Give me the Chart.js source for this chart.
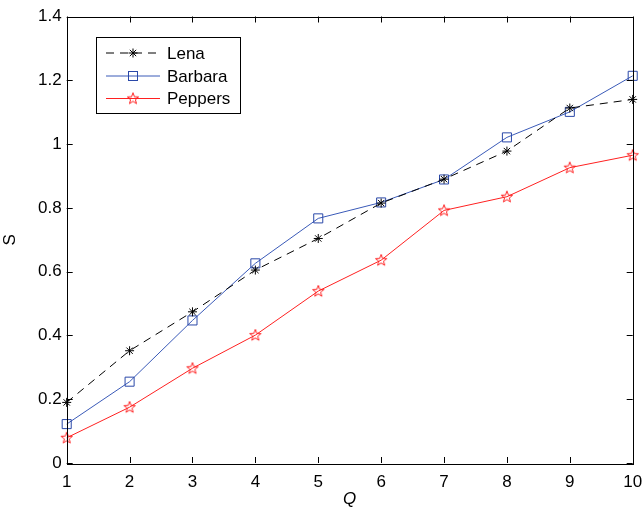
<!DOCTYPE html>
<html>
<head>
<meta charset="utf-8">
<script src="https://cdn.jsdelivr.net/npm/chart.js@4.4.1/dist/chart.umd.min.js"></script>
<style>
  html, body { margin: 0; padding: 0; background: #fff; }
  #wrap { width: 644px; height: 509px; }
</style>
</head>
<body>
<div id="wrap"><canvas id="chart" width="644" height="509"></canvas></div>
<script>
const qValues = [1, 2, 3, 4, 5, 6, 7, 8, 9, 10];
const lenaS = [0.19, 0.352, 0.474, 0.605, 0.704, 0.815, 0.89, 0.978, 1.113, 1.14];
const barbaraS = [0.122, 0.255, 0.447, 0.626, 0.767, 0.817, 0.889, 1.021, 1.101, 1.214];
const peppersS = [0.079, 0.175, 0.297, 0.401, 0.539, 0.636, 0.792, 0.835, 0.926, 0.965];
const seriesNames = ['Lena', 'Barbara', 'Peppers'];

const FONT = 'Liberation Sans, Arial, Helvetica, sans-serif';
const RED = '#ff2020';
const BLUE = '#3a5ab8';

// five-pointed star marker (MATLAB pentagram)
function makePentagram(color) {
    const c = document.createElement('canvas');
    c.width = 14; c.height = 14;
    const g = c.getContext('2d');
    g.strokeStyle = color;
    g.lineWidth = 1;
    g.beginPath();
    for (let i = 0; i < 10; i++) {
        const r = i % 2 === 0 ? 6 : 2.5;
        const a = -Math.PI / 2 + i * Math.PI / 5;
        const px = 7 + r * Math.cos(a), py = 7.3 + r * Math.sin(a);
        if (i === 0) g.moveTo(px, py); else g.lineTo(px, py);
    }
    g.closePath();
    g.stroke();
    return c;
}
const pentagram = makePentagram(RED);

function toPoints(ys) {
    return qValues.map((q, i) => ({ x: q, y: ys[i] }));
}

// box around plot area with inward ticks on all four sides
const boxPlugin = {
    id: 'box',
    afterDatasetsDraw(chart) {
        const ctx = chart.ctx;
        const a = chart.chartArea;
        const xs = chart.scales.x, ys = chart.scales.y;
        const len = 6;
        ctx.save();
        ctx.strokeStyle = '#000';
        ctx.lineWidth = 1;
        ctx.beginPath();
        xs.ticks.forEach(t => {
            const px = Math.round(xs.getPixelForValue(t.value)) + 0.5;
            ctx.moveTo(px, a.bottom); ctx.lineTo(px, a.bottom - len);
            ctx.moveTo(px, a.top); ctx.lineTo(px, a.top + len);
        });
        ys.ticks.forEach(t => {
            const py = Math.round(ys.getPixelForValue(t.value)) + 0.5;
            ctx.moveTo(a.left, py); ctx.lineTo(a.left + len, py);
            ctx.moveTo(a.right, py); ctx.lineTo(a.right - len, py);
        });
        ctx.stroke();
        ctx.strokeRect(Math.round(a.left) + 0.5, Math.round(a.top) + 0.5,
            Math.round(a.right - a.left), Math.round(a.bottom - a.top));
        ctx.restore();
    }
};

// legend box in the upper left corner, MATLAB style
const legendPlugin = {
    id: 'matlabLegend',
    afterDraw(chart) {
        const ctx = chart.ctx;
        const bx = 96.5, by = 37.5, bw = 144, bh = 76;
        ctx.save();
        ctx.fillStyle = '#fff';
        ctx.fillRect(bx, by, bw, bh);
        ctx.strokeStyle = '#000';
        ctx.lineWidth = 1;
        ctx.strokeRect(bx, by, bw, bh);
        const rows = [53, 76, 98.5];
        chart.data.datasets.forEach((ds, i) => {
            const y = rows[i];
            ctx.strokeStyle = ds.borderColor;
            ctx.lineWidth = ds.borderWidth;
            ctx.setLineDash(ds.borderDash || []);
            ctx.beginPath();
            ctx.moveTo(106, y); ctx.lineTo(160, y);
            ctx.stroke();
            ctx.setLineDash([]);
            const mx = 133;
            ctx.strokeStyle = ds.pointBorderColor;
            ctx.lineWidth = 1;
            if (ds.pointStyle === 'rect') {
                ctx.strokeRect(mx - 4.5, y - 4.5, 9, 9);
            } else if (ds.pointStyle === 'star') {
                ctx.beginPath();
                for (let k = 0; k < 4; k++) {
                    const ang = k * Math.PI / 4;
                    ctx.moveTo(mx - 4.5 * Math.cos(ang), y - 4.5 * Math.sin(ang));
                    ctx.lineTo(mx + 4.5 * Math.cos(ang), y + 4.5 * Math.sin(ang));
                }
                ctx.stroke();
            } else {
                ctx.drawImage(ds.pointStyle, mx - 7, y - 7);
            }
            ctx.fillStyle = '#000';
            ctx.font = '17px ' + FONT;
            ctx.textBaseline = 'middle';
            ctx.textAlign = 'left';
            ctx.fillText(ds.label, 167, y + 1);
        });
        ctx.restore();
    }
};

new Chart(document.getElementById('chart'), {
    type: 'line',
    data: {
        datasets: [
            {
                label: seriesNames[0],
                data: toPoints(lenaS),
                borderColor: '#000',
                borderWidth: 1,
                borderDash: [8, 6],
                pointStyle: 'star',
                pointRadius: 4.5,
                pointBorderColor: '#000',
                pointBorderWidth: 1,
                pointBackgroundColor: 'transparent'
            },
            {
                label: seriesNames[1],
                data: toPoints(barbaraS),
                borderColor: BLUE,
                borderWidth: 1,
                pointStyle: 'rect',
                pointRadius: 6.4,
                pointBorderColor: '#2a48a8',
                pointBorderWidth: 1,
                pointBackgroundColor: 'transparent'
            },
            {
                label: seriesNames[2],
                data: toPoints(peppersS),
                borderColor: RED,
                borderWidth: 1,
                pointStyle: pentagram,
                pointBorderColor: RED,
                pointBackgroundColor: 'transparent'
            }
        ]
    },
    options: {
        responsive: false,
        animation: false,
        clip: false,
        layout: { padding: { top: 16.5, right: 11.3, left: 0, bottom: 0 } },
        plugins: {
            legend: { display: false },
            tooltip: { enabled: false }
        },
        scales: {
            x: {
                type: 'linear',
                min: 1,
                max: 10,
                afterFit(scale) {
                    scale.height = 46;
                    scale.paddingLeft = 0;
                    scale.paddingRight = 0;
                },
                grid: { display: false, drawTicks: false },
                border: { display: false },
                ticks: {
                    stepSize: 1,
                    padding: 9,
                    color: '#000',
                    font: { family: FONT, size: 17 },
                    maxRotation: 0
                },
                title: {
                    display: true,
                    text: 'Q',
                    color: '#000',
                    padding: 0,
                    font: { family: FONT, size: 17, style: 'italic' }
                }
            },
            y: {
                min: 0,
                max: 1.4,
                afterFit(scale) {
                    scale.width = 66.7;
                    scale.paddingTop = 0;
                    scale.paddingBottom = 0;
                },
                grid: { display: false, drawTicks: false },
                border: { display: false },
                ticks: {
                    stepSize: 0.2,
                    padding: 5,
                    color: '#000',
                    font: { family: FONT, size: 17 },
                    callback: v => String(+v.toFixed(1))
                },
                title: {
                    display: true,
                    text: 'S',
                    color: '#000',
                    padding: 0,
                    font: { family: FONT, size: 17 }
                }
            }
        }
    },
    plugins: [boxPlugin, legendPlugin]
});
</script>
</body>
</html>
